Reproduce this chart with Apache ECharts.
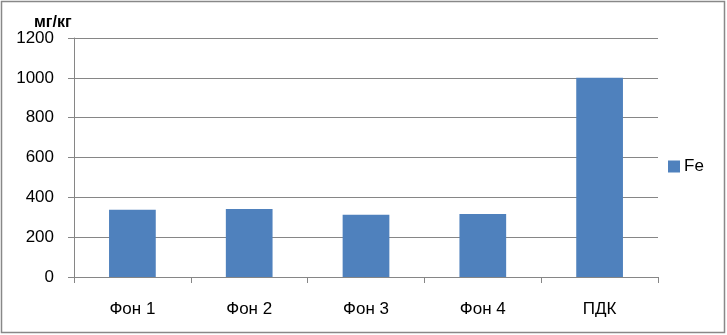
<!DOCTYPE html>
<html><head><meta charset="utf-8">
<script src="https://cdn.jsdelivr.net/npm/echarts@6/dist/echarts.min.js"></script>
<style>html,body{margin:0;padding:0;background:#fff}#c{width:727px;height:335px}</style>
</head><body><div id="c"></div>
<script>
const categories = ['Фон 1', 'Фон 2', 'Фон 3', 'Фон 4', 'ПДК'];
const feValues = [338, 341, 313, 316, 1000];
const seriesName = 'Fe';
const unitLabel = 'мг/кг';
const yTicks = [0, 200, 400, 600, 800, 1000, 1200];

const chart = echarts.init(document.getElementById('c'), null, {renderer: 'canvas'});
const font = '"Liberation Sans", "Open Sans", sans-serif';
chart.setOption({
  animation: false,
  backgroundColor: '#fff',
  textStyle: {fontFamily: font},
  graphic: [{
    type: 'rect', shape: {x: 1.5, y: 1.5, width: 723, height: 331},
    style: {fill: 'none', stroke: '#888', lineWidth: 1.5}
  }],
  title: {
    text: unitLabel, left: 34, top: 15, padding: 0,
    textStyle: {fontFamily: font, fontSize: 16, fontWeight: 'bold', color: '#000'}
  },
  legend: {
    data: [seriesName], orient: 'vertical', left: 668, top: 158, padding: 0,
    itemWidth: 12, itemHeight: 12, itemGap: 4,
    icon: 'rect',
    textStyle: {fontFamily: font, fontSize: 17, color: '#000', padding: [0, 0, 0, -1]}
  },
  grid: {left: 74, right: 69, top: 38, bottom: 58, containLabel: false},
  xAxis: {
    type: 'category', data: categories,
    axisLine: {lineStyle: {color: '#868686', width: 1}},
    axisTick: {show: true, alignWithLabel: false, length: 6, lineStyle: {color: '#868686'}},
    axisLabel: {fontFamily: font, fontSize: 17, color: '#000', margin: 24}
  },
  yAxis: {
    type: 'value', min: yTicks[0], max: yTicks[yTicks.length - 1], interval: 200,
    axisLine: {show: true, lineStyle: {color: '#868686', width: 1}},
    axisTick: {show: true, length: 6, lineStyle: {color: '#868686'}},
    splitLine: {lineStyle: {color: '#868686', width: 1}},
    axisLabel: {fontFamily: font, fontSize: 17, color: '#000', margin: 20,
      formatter: function (v) { return String(v); }}
  },
  series: [{
    name: seriesName, type: 'bar', data: feValues,
    barWidth: '40%', itemStyle: {color: '#4F81BD'}
  }]
});
</script></body></html>
